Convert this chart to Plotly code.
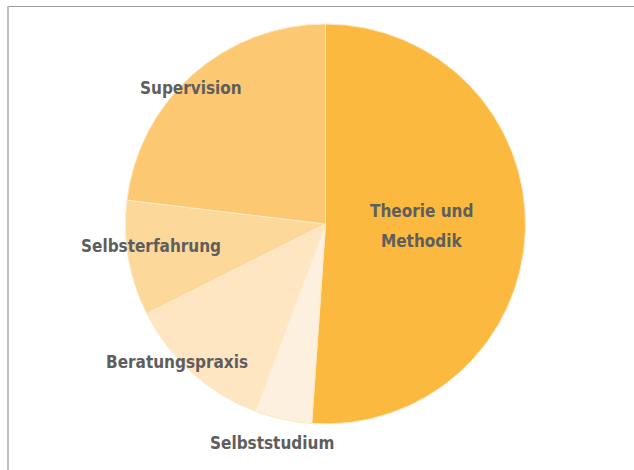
import plotly.graph_objects as go

labels = ["Theorie und Methodik", "Selbststudium", "Beratungspraxis", "Selbsterfahrung", "Supervision"]
label_text = ["Theorie und<br>Methodik", "Selbststudium", "Beratungspraxis", "Selbsterfahrung", "Supervision"]
values = [51.1, 4.6, 11.9, 9.3, 23.1]
colors = ["#FBB940", "#FEF0DE", "#FEE6C3", "#FDD89B", "#FCC872"]

# label anchor positions (pixels in 634x470 window)
label_px = [(421, 226), (272, 443), (177, 362), (151, 246), (191, 88)]
LINE_GAP = 29

W, H = 634, 470
cx, cy, r = 325.5, 224, 200

fig = go.Figure(go.Pie(
    labels=labels,
    values=values,
    sort=False,
    direction="clockwise",
    rotation=0,
    textinfo="none",
    hoverinfo="label+percent",
    marker=dict(colors=colors, line=dict(color="#FFE9C8", width=1)),
    domain=dict(x=[(cx - r) / W, (cx + r) / W], y=[1 - (cy + r) / H, 1 - (cy - r) / H]),
    showlegend=False,
))

for t, (px, py) in zip(label_text, label_px):
    lines = t.split("<br>")
    n = len(lines)
    for i, line in enumerate(lines):
        ly = py + (i - (n - 1) / 2) * LINE_GAP
        fig.add_annotation(
            x=px / W, y=1 - ly / H, xref="paper", yref="paper",
            text=line, showarrow=False, xanchor="center", yanchor="middle",
            font=dict(family="DejaVu Sans Condensed",
                      size=17, color="#5E5E5E", weight="bold"),
        )

# frame lines (top and left)
fig.add_shape(type="line", xref="paper", yref="paper", x0=7.5 / W, x1=1, y0=1 - 6.5 / H, y1=1 - 6.5 / H,
              line=dict(color="#9A9A9A", width=1))
fig.add_shape(type="line", xref="paper", yref="paper", x0=8 / W, x1=8 / W, y0=0, y1=1 - 6 / H,
              line=dict(color="#C0C0C0", width=2))

fig.update_layout(
    width=W, height=H,
    margin=dict(l=0, r=0, t=0, b=0),
    paper_bgcolor="white", plot_bgcolor="white",
)

fig.write_html("out.html", config={"displayModeBar": False},
               post_script="document.body.style.margin='0';document.body.style.padding='0';")
